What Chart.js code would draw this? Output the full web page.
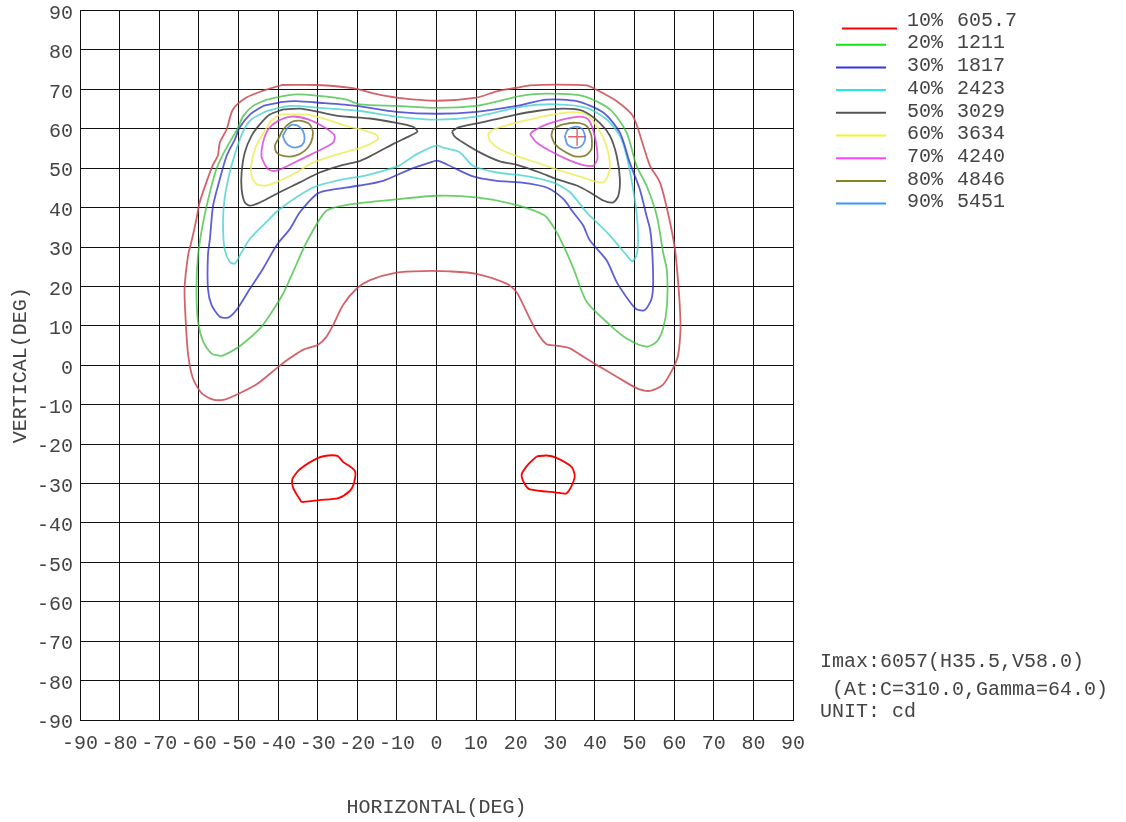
<!DOCTYPE html>
<html><head><meta charset="utf-8">
<script src="https://cdn.jsdelivr.net/npm/chart.js@4"></script>
<style>html,body{margin:0;padding:0;background:#fff}#wrap{width:1126px;height:822px;position:relative}</style>
</head><body><div id="wrap"><canvas id="c" width="1126" height="822"></canvas></div>
<script>
const tickValues = [-90,-80,-70,-60,-50,-40,-30,-20,-10,0,10,20,30,40,50,60,70,80,90];
const levelPercents = ['10%','20%','30%','40%','50%','60%','70%','80%','90%'];
const levelValues = ['605.7','1211','1817','2423','3029','3634','4240','4846','5451'];
const imaxPoint = [35.5, 58.0];
const infoLines = ['Imax:6057(H35.5,V58.0)', ' (At:C=310.0,Gamma=64.0)', 'UNIT: cd'];

// contour lines [H, V] in degrees
const c10_main = [[-39.1,71.1],[-30.3,71.1],[-21.1,70.3],[-15.6,68.9],[-10.1,67.9],[0.1,67.1],[10.1,67.9],[15.2,69.5],[20.2,70.4],[23.6,71.0],[30.3,71.2],[37.9,71.0],[40.0,70.1],[45.5,67.0],[49.6,63.2],[52.2,55.7],[53.9,50.6],[56.4,46.4],[58.4,38.8],[60.2,29.5],[61.0,21.1],[61.4,15.3],[61.6,9.3],[61.0,2.6],[59.7,-0.8],[57.2,-4.9],[53.9,-6.5],[50.5,-5.8],[45.5,-2.9],[40.4,0.1],[37.0,2.2],[33.7,4.3],[30.3,5.0],[27.8,5.3],[25.3,8.5],[22.7,13.6],[20.2,18.6],[17.7,20.7],[10.1,23.2],[3.4,23.8],[-3.4,23.9],[-10.1,23.5],[-16.8,21.6],[-20.2,19.4],[-23.6,15.3],[-26.1,10.2],[-27.8,7.2],[-29.9,5.2],[-33.7,3.9],[-38.3,0.9],[-40.4,-0.8],[-45.5,-4.9],[-49.7,-7.1],[-53.5,-8.7],[-56.4,-8.7],[-59.3,-7.1],[-61.5,-3.3],[-62.7,2.7],[-63.3,11.0],[-63.6,19.4],[-62.7,28.0],[-61.9,31.2],[-60.6,37.1],[-59.8,41.3],[-58.1,46.4],[-56.5,50.7],[-55.2,53.2],[-54.7,56.5],[-53.0,59.8],[-51.4,64.9],[-48.0,67.9],[-43.9,69.6]];
const c10_blobL = [[-34.1,-34.7],[-36.2,-31.1],[-36.4,-28.9],[-34.5,-26.4],[-29.9,-23.5],[-27.4,-22.9],[-25.0,-23.0],[-23.6,-24.5],[-20.6,-26.8],[-20.8,-29.8],[-21.9,-31.9],[-24.8,-33.7],[-29.5,-34.2]];
const c10_blobR = [[25.3,-23.1],[27.8,-22.9],[30.3,-23.5],[34.1,-25.8],[34.9,-28.1],[34.1,-30.6],[32.8,-32.5],[30.3,-32.3],[23.6,-31.5],[22.3,-30.2],[21.5,-27.7],[23.1,-25.2]];
const c20 = [[-42.9,67.4],[-38.7,68.3],[-35.4,68.7],[-30.3,68.4],[-22.7,67.4],[-19.4,66.2],[-10.1,65.8],[0.1,65.3],[10.1,65.8],[16.0,67.1],[21.0,68.3],[27.8,68.9],[37.0,68.3],[43.8,64.9],[48.0,59.0],[50.5,50.6],[53.0,45.6],[55.6,38.0],[57.2,28.7],[58.2,23.7],[58.2,15.3],[57.2,9.3],[55.6,6.0],[53.0,4.7],[48.0,6.8],[43.8,10.2],[37.9,16.1],[34.9,23.7],[32.8,28.7],[30.3,33.8],[27.3,38.0],[19.3,40.9],[10.1,42.6],[0.1,43.0],[-10.1,42.1],[-21.9,40.8],[-27.8,39.2],[-32.8,31.2],[-36.2,23.7],[-38.7,18.2],[-42.1,12.7],[-44.6,9.3],[-49.2,5.2],[-51.8,3.5],[-54.3,2.4],[-56.8,3.0],[-58.9,6.0],[-60.2,11.0],[-60.6,19.4],[-60.2,27.9],[-58.9,36.3],[-57.2,43.9],[-55.6,49.7],[-53.9,53.5],[-51.8,57.3],[-50.1,60.3],[-48.8,63.2],[-46.3,65.8]];
const c30 = [[-43.8,65.8],[-38.7,66.8],[-35.4,67.0],[-29.5,66.6],[-20.2,65.8],[-10.1,64.3],[0.1,63.8],[10.1,64.3],[20.2,65.8],[27.8,67.4],[35.4,67.0],[42.1,64.1],[46.3,59.0],[48.8,51.4],[51.3,44.7],[53.0,38.0],[53.9,34.6],[54.4,29.9],[54.7,21.1],[54.3,16.9],[52.6,14.0],[50.5,14.2],[48.8,16.1],[45.5,21.1],[42.9,26.7],[38.7,31.7],[37.0,35.5],[34.5,38.8],[32.0,42.2],[27.8,45.1],[21.0,46.4],[15.2,46.8],[9.2,47.9],[2.5,51.0],[0.1,51.9],[-1.7,51.4],[-6.7,49.7],[-13.5,46.8],[-19.4,45.6],[-27.8,44.3],[-30.3,43.4],[-34.5,38.8],[-37.0,34.6],[-40.4,30.4],[-43.8,24.5],[-47.1,19.4],[-50.5,14.0],[-52.6,12.1],[-54.7,12.3],[-56.8,15.3],[-57.7,19.4],[-57.7,27.9],[-57.2,32.1],[-56.4,40.5],[-54.7,47.2],[-53.0,53.1],[-50.9,57.3],[-49.7,60.3],[-47.1,63.6]];
const c40 = [[-42.9,64.5],[-37.0,65.8],[-29.5,65.3],[-19.4,64.5],[-10.1,63.1],[0.1,62.3],[10.1,63.1],[21.9,65.7],[30.3,66.2],[37.9,65.3],[42.9,62.4],[46.3,58.2],[48.0,53.1],[49.2,47.2],[50.5,38.8],[50.9,32.1],[50.5,27.9],[49.4,26.4],[48.0,27.9],[43.8,32.9],[40.4,36.3],[37.9,38.8],[33.7,43.9],[29.4,46.4],[21.9,48.1],[15.2,48.9],[9.2,50.6],[5.9,54.0],[1.7,55.2],[0.1,55.8],[-5.1,53.5],[-9.3,50.7],[-13.5,49.3],[-17.7,48.2],[-25.3,46.8],[-31.2,45.1],[-39.6,39.6],[-43.8,35.5],[-47.1,32.1],[-49.2,28.7],[-50.9,25.8],[-52.2,26.2],[-53.5,29.5],[-53.9,36.3],[-53.5,42.2],[-52.2,48.9],[-50.5,54.8],[-48.8,59.4],[-46.7,62.4]];
const c50_L = [[-38.7,64.9],[-34.5,65.1],[-29.5,64.2],[-24.4,63.2],[-16.8,62.6],[-10.1,61.5],[-5.9,60.5],[-4.8,59.3],[-6.7,58.2],[-11.0,56.1],[-16.8,53.0],[-19.4,51.8],[-24.4,50.6],[-29.5,48.9],[-34.5,46.4],[-39.6,43.9],[-44.6,41.3],[-47.1,40.5],[-48.4,41.3],[-49.2,44.7],[-49.2,48.9],[-48.4,54.0],[-46.7,58.2],[-44.6,61.1],[-42.1,63.6]];
const c50_R = [[3.9,59.3],[5.4,60.3],[10.9,61.5],[19.3,63.4],[25.3,64.5],[32.0,65.1],[37.0,64.5],[41.2,61.5],[43.8,58.2],[45.5,53.1],[46.3,47.2],[45.9,43.0],[44.6,41.3],[42.1,41.8],[38.7,43.9],[35.4,45.6],[30.3,47.2],[26.1,48.9],[20.5,50.8],[16.0,51.7],[10.9,54.0],[6.7,56.5],[4.6,58.0]];
const c60_L = [[-39.6,63.6],[-32.8,63.6],[-27.8,62.4],[-22.7,60.7],[-17.7,59.4],[-15.1,58.4],[-14.8,57.4],[-16.8,56.1],[-19.4,55.1],[-24.4,53.7],[-31.2,51.4],[-35.4,48.9],[-39.6,46.8],[-42.9,45.6],[-45.5,46.0],[-46.7,48.1],[-46.7,51.4],[-45.5,55.7],[-43.4,59.4],[-41.7,62.0]];
const c60_R = [[13.0,58.6],[14.3,59.8],[18.5,61.1],[23.6,62.4],[29.4,63.6],[34.5,64.2],[37.9,63.6],[40.4,60.7],[42.9,55.7],[43.8,50.6],[43.3,48.1],[42.1,46.4],[39.5,46.8],[35.4,48.1],[30.3,49.7],[25.3,51.4],[20.2,53.1],[16.0,54.8],[13.5,56.9]];
const c70_L = [[-43.4,51.0],[-44.2,53.1],[-43.8,56.5],[-42.5,59.8],[-40.0,62.0],[-36.6,63.1],[-32.4,62.4],[-28.2,60.3],[-25.7,58.2],[-26.1,56.5],[-29.0,54.8],[-34.1,52.3],[-38.3,50.2],[-40.8,49.3],[-42.5,49.7]];
const c70_R = [[23.6,58.6],[24.4,59.4],[27.8,61.1],[32.0,62.4],[36.2,63.1],[38.3,62.4],[39.5,59.8],[40.4,55.7],[40.6,52.3],[39.5,50.6],[37.0,50.8],[33.7,51.9],[28.6,54.4],[25.3,56.5]];
const c80_L = [[-40.0,57.3],[-40.8,55.7],[-40.4,54.0],[-38.7,53.1],[-35.8,53.1],[-33.3,54.4],[-31.7,56.5],[-31.2,59.0],[-32.0,61.1],[-34.1,62.0],[-36.6,61.7],[-38.7,59.8]];
const c80_R = [[29.0,58.2],[29.4,59.8],[32.0,61.1],[35.4,61.5],[37.9,60.7],[39.1,58.2],[39.1,54.8],[37.4,53.1],[34.9,53.0],[32.0,54.4],[29.9,56.1]];
const c90_L = [[-38.8,58.2],[-37.9,59.8],[-36.6,61.0],[-34.9,60.7],[-33.7,59.4],[-33.3,57.3],[-34.0,55.8],[-35.8,55.2],[-37.5,55.9],[-38.3,56.9]];
const c90_R = [[32.4,58.2],[33.2,59.8],[34.9,60.5],[36.6,60.1],[37.4,58.6],[37.4,56.9],[36.4,55.5],[34.5,55.2],[33.0,56.1]];

const legendColors = ['#ff0000','#18e018','#3434e0','#22e8e8','#555555','#f4f428','#ff44ff','#848420','#3a98f4'];
const lineColors = ['rgba(205,70,80,0.85)','rgba(60,190,60,0.75)','rgba(40,40,200,0.75)','rgba(60,205,205,0.75)','rgba(60,60,60,0.85)','rgba(235,235,80,0.8)','rgba(215,60,215,0.8)','rgba(115,115,30,0.85)','rgba(60,130,230,0.8)'];

const contours = [
  {lvl:0, pts:c10_main}, {lvl:0, pts:c10_blobL, col:'#ff0000'}, {lvl:0, pts:c10_blobR, col:'#ff0000'},
  {lvl:1, pts:c20}, {lvl:2, pts:c30}, {lvl:3, pts:c40},
  {lvl:4, pts:c50_L}, {lvl:4, pts:c50_R},
  {lvl:5, pts:c60_L}, {lvl:5, pts:c60_R},
  {lvl:6, pts:c70_L}, {lvl:6, pts:c70_R},
  {lvl:7, pts:c80_L}, {lvl:7, pts:c80_R},
  {lvl:8, pts:c90_L}, {lvl:8, pts:c90_R}
];

const FONT = '"Liberation Mono", "DejaVu Sans Mono", monospace';
const TXT = '#444';

const datasets = contours.map(c => {
  const d = c.pts.map(p => ({x:p[0], y:p[1]}));
  d.push({x:c.pts[0][0], y:c.pts[0][1]});
  return {data:d, showLine:true, borderColor:c.col || lineColors[c.lvl], borderWidth:1.8,
    pointRadius:0, tension:0.25, fill:false};
});
datasets.push({data:[{x:imaxPoint[0], y:imaxPoint[1]}], showLine:false, pointStyle:'cross',
  pointRadius:9, borderColor:'rgba(215,80,80,0.85)', borderWidth:1.5, backgroundColor:'transparent'});

const overlay = {
  id:'overlay',
  afterDraw(chart){
    const ctx = chart.ctx;
    ctx.save();
    ctx.font = '20px ' + FONT;
    ctx.fillStyle = TXT;
    ctx.textBaseline = 'middle';
    ctx.textAlign = 'left';
    for (let i = 0; i < levelPercents.length; i++) {
      const ty = 20.5 + i * 22.7;
      ctx.fillText(levelPercents[i], 907, ty);
      ctx.fillText(levelValues[i], 957, ty);
      ctx.strokeStyle = legendColors[i];
      ctx.lineWidth = 2;
      ctx.beginPath();
      if (i === 0) { ctx.moveTo(842, 28.5); ctx.lineTo(897, 28.5); }
      else { const ly = ty + 1.5; ctx.moveTo(836, ly); ctx.lineTo(886, ly); }
      ctx.stroke();
    }
    ctx.fillText(infoLines[0], 820, 662);
    ctx.fillText(infoLines[1], 820, 690);
    ctx.fillText(infoLines[2], 820, 712);
    ctx.restore();
  }
};

new Chart(document.getElementById('c'), {
  type:'scatter',
  data:{datasets},
  options:{
    responsive:false, animation:false, events:[],
    layout:{padding:{left:0, top:7, right:333, bottom:0}},
    plugins:{legend:{display:false}, tooltip:{enabled:false}},
    scales:{
      x:{type:'linear', min:-90, max:90,
        afterBuildTicks(s){ s.ticks = tickValues.map(v => ({value:v})); },
        afterFit(s){ s.height = 102; },
        grid:{color:'#111', lineWidth:1, drawTicks:false},
        border:{display:true, color:'#111', width:1},
        ticks:{autoSkip:false, maxRotation:0, padding:12, color:TXT, font:{family:FONT, size:20}, callback:v => String(v)},
        title:{display:true, text:'HORIZONTAL(DEG)', color:TXT, font:{family:FONT, size:20}, padding:{top:0, bottom:2}}
      },
      y:{type:'linear', min:-90, max:90,
        afterBuildTicks(s){ s.ticks = tickValues.map(v => ({value:v})); },
        afterFit(s){ s.width = 80; s.paddingTop = 0; s.paddingBottom = 0; },
        grid:{color:'#111', lineWidth:1, drawTicks:false},
        border:{display:true, color:'#111', width:1},
        ticks:{autoSkip:false, padding:7, labelOffset:3, color:TXT, font:{family:FONT, size:20}, callback:v => String(v)},
        title:{display:true, text:'VERTICAL(DEG)', color:TXT, font:{family:FONT, size:20}, padding:{top:9, bottom:0}}
      }
    }
  },
  plugins:[overlay]
});
</script>
</body></html>
